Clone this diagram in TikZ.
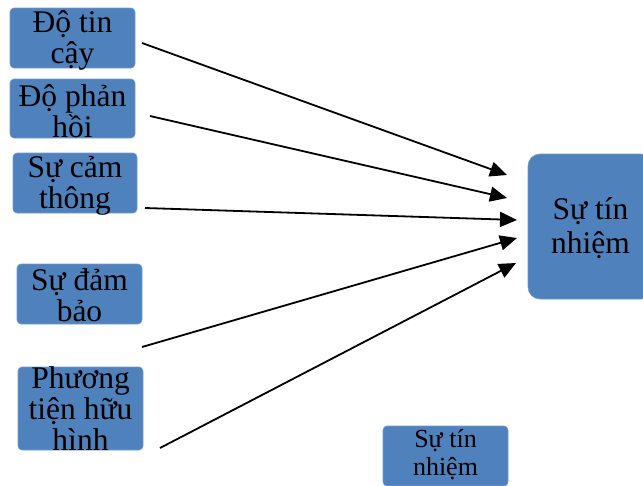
\documentclass[tikz,border=0pt]{standalone}
\usepackage{fontspec}
\setmainfont{Liberation Serif}
\usetikzlibrary{arrows.meta}
\definecolor{boxblue}{HTML}{4F81BD}
\definecolor{boxedge}{HTML}{6F9AD0}
\tikzset{
  bluebox/.style={fill=boxblue, draw=boxedge, line width=0.6pt, rounded corners=4pt, inner sep=0pt, anchor=center},
  bigbox/.style={bluebox, rounded corners=12pt},
  boxtext/.style={inner sep=0pt, align=center, text=black, font=\fontsize{31.5}{31}\selectfont},
  smalltext/.style={inner sep=0pt, align=center, text=black, font=\fontsize{26}{28}\selectfont},
  bigtext/.style={inner sep=0pt, align=center, text=black, font=\fontsize{31.5}{34}\selectfont},
  conn/.style={draw=black, line width=1.8pt, -{Triangle[length=17pt,width=15pt]}}
}
\begin{document}
\begin{tikzpicture}[x=1pt,y=-1pt]
\useasboundingbox (0,0) rectangle (643,485);
\clip (0,0) rectangle (643,485);
% boxes
\node[bluebox, minimum width=125pt, minimum height=60pt] (b1) at (72.5,38) {};
\node[bluebox, minimum width=125pt, minimum height=59pt] (b2) at (72.5,108.5) {};
\node[bluebox, minimum width=124pt, minimum height=60pt] (b3) at (75,183) {};
\node[bluebox, minimum width=125pt, minimum height=60pt] (b4) at (79.5,294) {};
\node[bluebox, minimum width=125pt, minimum height=83pt] (b5) at (80.5,408.5) {};
\node[bigbox, minimum width=125pt, minimum height=145pt] (big) at (590.5,226.5) {};
\node[bluebox, minimum width=125pt, minimum height=60pt] (small) at (445.5,456) {};
% texts
\node[boxtext] (t1) at (72.5,40) {Độ tin\\cậy};
\node[boxtext] (t2) at (72.5,111) {Độ phản\\hồi};
\node[boxtext] (t3) at (75,186) {Sự cảm\\thông};
\node[boxtext] (t4) at (79.5,295) {Sự đảm\\bảo};
\node[boxtext] (t5) at (80.5,409) {Phương\\tiện hữu\\hình};
\node[bigtext] (tb) at (590.5,228) {Sự tín\\nhiệm};
\node[smalltext] (ts) at (445.5,455) {Sự tín\\nhiệm};
% connector ends
\coordinate (s1) at (142,43);
\coordinate (s2) at (150,116);
\coordinate (s3) at (145,208);
\coordinate (s4) at (142,347);
\coordinate (s5) at (160,448);
\coordinate (e1) at (507,175);
\coordinate (e2) at (507,198);
\coordinate (e3) at (517,220);
\coordinate (e4) at (517,238);
\coordinate (e5) at (516,263);
\draw[conn] (s1) -- (e1);
\draw[conn] (s2) -- (e2);
\draw[conn] (s3) -- (e3);
\draw[conn] (s4) -- (e4);
\draw[conn] (s5) -- (e5);
\end{tikzpicture}
\end{document}
